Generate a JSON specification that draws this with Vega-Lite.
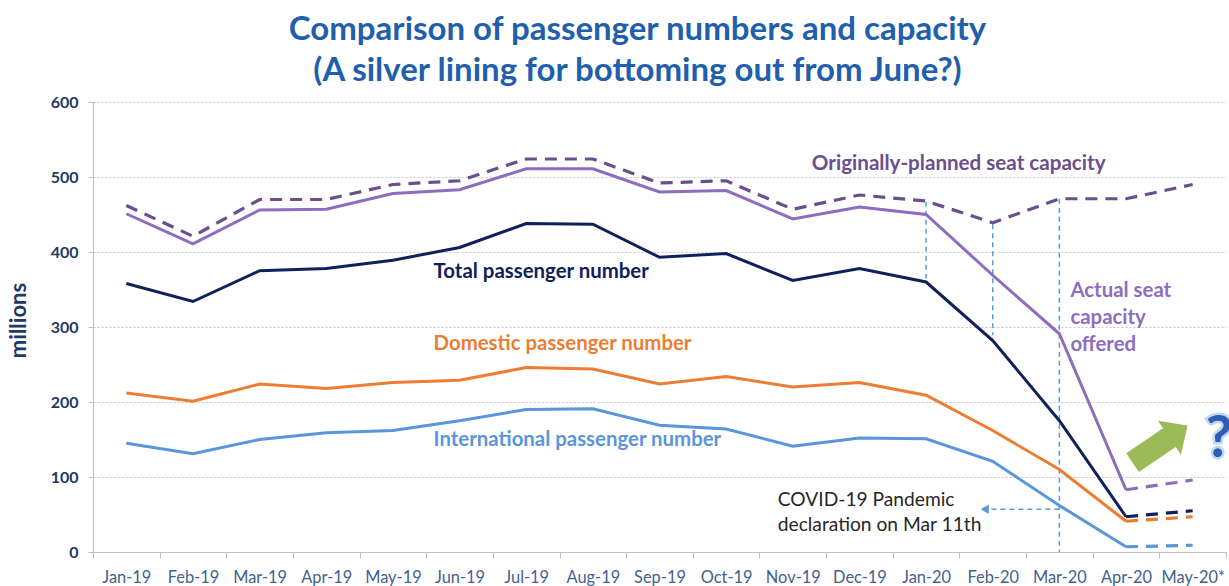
{
  "$schema": "https://vega.github.io/schema/vega-lite/v6.json",
  "width": 1133,
  "height": 450,
  "autosize": {"type": "none"},
  "padding": {"left": 93, "top": 102, "right": 3, "bottom": 34},
  "background": "white",
  "config": {"font": "Lato", "view": {"stroke": null}},
  "title": {
    "text": ["Comparison of passenger numbers and capacity", "(A silver lining for bottoming out from June?)"],
    "font": "Lato",
    "fontSize": 33,
    "fontWeight": "bold",
    "color": "#1F5FAD",
    "anchor": "middle",
    "frame": "group",
    "dx": -22,
    "lineHeight": 41,
    "offset": 6
  },
  "datasets": {
    "lines": [
      {"month": "Jan-19", "series": "Total", "value": 358, "status": "reported"},
      {"month": "Feb-19", "series": "Total", "value": 334, "status": "reported"},
      {"month": "Mar-19", "series": "Total", "value": 375, "status": "reported"},
      {"month": "Apr-19", "series": "Total", "value": 378, "status": "reported"},
      {"month": "May-19", "series": "Total", "value": 389, "status": "reported"},
      {"month": "Jun-19", "series": "Total", "value": 406, "status": "reported"},
      {"month": "Jul-19", "series": "Total", "value": 438, "status": "reported"},
      {"month": "Aug-19", "series": "Total", "value": 437, "status": "reported"},
      {"month": "Sep-19", "series": "Total", "value": 393, "status": "reported"},
      {"month": "Oct-19", "series": "Total", "value": 398, "status": "reported"},
      {"month": "Nov-19", "series": "Total", "value": 362, "status": "reported"},
      {"month": "Dec-19", "series": "Total", "value": 378, "status": "reported"},
      {"month": "Jan-20", "series": "Total", "value": 360, "status": "reported"},
      {"month": "Feb-20", "series": "Total", "value": 282, "status": "reported"},
      {"month": "Mar-20", "series": "Total", "value": 175, "status": "reported"},
      {"month": "Apr-20", "series": "Total", "value": 47, "status": "reported"},
      {"month": "Apr-20", "series": "Total", "value": 47, "status": "estimated"},
      {"month": "May-20*", "series": "Total", "value": 55, "status": "estimated"},

      {"month": "Jan-19", "series": "Actual", "value": 451, "status": "reported"},
      {"month": "Feb-19", "series": "Actual", "value": 411, "status": "reported"},
      {"month": "Mar-19", "series": "Actual", "value": 456, "status": "reported"},
      {"month": "Apr-19", "series": "Actual", "value": 457, "status": "reported"},
      {"month": "May-19", "series": "Actual", "value": 478, "status": "reported"},
      {"month": "Jun-19", "series": "Actual", "value": 483, "status": "reported"},
      {"month": "Jul-19", "series": "Actual", "value": 511, "status": "reported"},
      {"month": "Aug-19", "series": "Actual", "value": 511, "status": "reported"},
      {"month": "Sep-19", "series": "Actual", "value": 480, "status": "reported"},
      {"month": "Oct-19", "series": "Actual", "value": 482, "status": "reported"},
      {"month": "Nov-19", "series": "Actual", "value": 444, "status": "reported"},
      {"month": "Dec-19", "series": "Actual", "value": 460, "status": "reported"},
      {"month": "Jan-20", "series": "Actual", "value": 450, "status": "reported"},
      {"month": "Feb-20", "series": "Actual", "value": 369, "status": "reported"},
      {"month": "Mar-20", "series": "Actual", "value": 291, "status": "reported"},
      {"month": "Apr-20", "series": "Actual", "value": 83, "status": "reported"},
      {"month": "Apr-20", "series": "Actual", "value": 83, "status": "estimated"},
      {"month": "May-20*", "series": "Actual", "value": 96, "status": "estimated"},

      {"month": "Jan-19", "series": "Planned", "value": 462, "status": "planned"},
      {"month": "Feb-19", "series": "Planned", "value": 421, "status": "planned"},
      {"month": "Mar-19", "series": "Planned", "value": 470, "status": "planned"},
      {"month": "Apr-19", "series": "Planned", "value": 470, "status": "planned"},
      {"month": "May-19", "series": "Planned", "value": 490, "status": "planned"},
      {"month": "Jun-19", "series": "Planned", "value": 495, "status": "planned"},
      {"month": "Jul-19", "series": "Planned", "value": 524, "status": "planned"},
      {"month": "Aug-19", "series": "Planned", "value": 524, "status": "planned"},
      {"month": "Sep-19", "series": "Planned", "value": 492, "status": "planned"},
      {"month": "Oct-19", "series": "Planned", "value": 495, "status": "planned"},
      {"month": "Nov-19", "series": "Planned", "value": 457, "status": "planned"},
      {"month": "Dec-19", "series": "Planned", "value": 476, "status": "planned"},
      {"month": "Jan-20", "series": "Planned", "value": 468, "status": "planned"},
      {"month": "Feb-20", "series": "Planned", "value": 439, "status": "planned"},
      {"month": "Mar-20", "series": "Planned", "value": 471, "status": "planned"},
      {"month": "Apr-20", "series": "Planned", "value": 471, "status": "planned"},
      {"month": "May-20*", "series": "Planned", "value": 490, "status": "planned"},

      {"month": "Jan-19", "series": "Domestic", "value": 212, "status": "reported"},
      {"month": "Feb-19", "series": "Domestic", "value": 201, "status": "reported"},
      {"month": "Mar-19", "series": "Domestic", "value": 224, "status": "reported"},
      {"month": "Apr-19", "series": "Domestic", "value": 218, "status": "reported"},
      {"month": "May-19", "series": "Domestic", "value": 226, "status": "reported"},
      {"month": "Jun-19", "series": "Domestic", "value": 229, "status": "reported"},
      {"month": "Jul-19", "series": "Domestic", "value": 246, "status": "reported"},
      {"month": "Aug-19", "series": "Domestic", "value": 244, "status": "reported"},
      {"month": "Sep-19", "series": "Domestic", "value": 224, "status": "reported"},
      {"month": "Oct-19", "series": "Domestic", "value": 234, "status": "reported"},
      {"month": "Nov-19", "series": "Domestic", "value": 220, "status": "reported"},
      {"month": "Dec-19", "series": "Domestic", "value": 226, "status": "reported"},
      {"month": "Jan-20", "series": "Domestic", "value": 209, "status": "reported"},
      {"month": "Feb-20", "series": "Domestic", "value": 162, "status": "reported"},
      {"month": "Mar-20", "series": "Domestic", "value": 110, "status": "reported"},
      {"month": "Apr-20", "series": "Domestic", "value": 41, "status": "reported"},
      {"month": "Apr-20", "series": "Domestic", "value": 41, "status": "estimated"},
      {"month": "May-20*", "series": "Domestic", "value": 47, "status": "estimated"},

      {"month": "Jan-19", "series": "International", "value": 145, "status": "reported"},
      {"month": "Feb-19", "series": "International", "value": 131, "status": "reported"},
      {"month": "Mar-19", "series": "International", "value": 150, "status": "reported"},
      {"month": "Apr-19", "series": "International", "value": 159, "status": "reported"},
      {"month": "May-19", "series": "International", "value": 162, "status": "reported"},
      {"month": "Jun-19", "series": "International", "value": 175, "status": "reported"},
      {"month": "Jul-19", "series": "International", "value": 190, "status": "reported"},
      {"month": "Aug-19", "series": "International", "value": 191, "status": "reported"},
      {"month": "Sep-19", "series": "International", "value": 169, "status": "reported"},
      {"month": "Oct-19", "series": "International", "value": 164, "status": "reported"},
      {"month": "Nov-19", "series": "International", "value": 141, "status": "reported"},
      {"month": "Dec-19", "series": "International", "value": 152, "status": "reported"},
      {"month": "Jan-20", "series": "International", "value": 151, "status": "reported"},
      {"month": "Feb-20", "series": "International", "value": 121, "status": "reported"},
      {"month": "Mar-20", "series": "International", "value": 62, "status": "reported"},
      {"month": "Apr-20", "series": "International", "value": 7, "status": "reported"},
      {"month": "Apr-20", "series": "International", "value": 7, "status": "estimated"},
      {"month": "May-20*", "series": "International", "value": 9, "status": "estimated"}
    ]
  },
  "encoding": {
    "x": {
      "field": "month",
      "type": "ordinal",
      "sort": ["Jan-19", "Feb-19", "Mar-19", "Apr-19", "May-19", "Jun-19", "Jul-19", "Aug-19", "Sep-19", "Oct-19", "Nov-19", "Dec-19", "Jan-20", "Feb-20", "Mar-20", "Apr-20", "May-20*"],
      "scale": {"paddingInner": 0, "paddingOuter": 0},
      "axis": {
        "title": null,
        "tickBand": "extent",
        "labelAngle": 0,
        "labelColor": "#44618C",
        "labelFont": "Lato",
        "labelFontSize": 16.4,
        "labelPadding": 11,
        "domainColor": "#BFBFBF",
        "tickColor": "#BFBFBF",
        "tickSize": 6,
        "grid": false
      }
    },
    "y": {
      "field": "value",
      "type": "quantitative",
      "scale": {"domain": [0, 600], "nice": false},
      "axis": {
        "values": [0, 100, 200, 300, 400, 500, 600],
        "title": "millions",
        "titleX": -75,
        "titleY": 218,
        "titleAngle": -90,
        "titleAlign": "center",
        "titleBaseline": "middle",
        "titleFont": "Lato",
        "titleFontSize": 22,
        "titleFontWeight": "bold",
        "titleColor": "#1F3864",
        "labelFont": "Lato",
        "labelFontSize": 16,
        "labelFontWeight": "bold",
        "labelColor": "#1F3864",
        "labelPadding": 10,
        "tickSize": 5,
        "tickColor": "#BFBFBF",
        "domainColor": "#BFBFBF",
        "grid": true,
        "gridColor": "#C8C8C8",
        "gridDash": [2, 2]
      }
    }
  },
  "layer": [
    {
      "data": {"values": [
        {"month": "Jan-20", "value": 467, "value2": 360},
        {"month": "Feb-20", "value": 437, "value2": 289},
        {"month": "Mar-20", "value": 471, "value2": 0}
      ]},
      "mark": {"type": "rule", "color": "#5B9BD5", "strokeDash": [5, 4], "strokeWidth": 1.5},
      "encoding": {"y2": {"field": "value2"}}
    },
    {
      "data": {"values": [{"month": "Mar-20", "month2": "Feb-20", "value": 57}]},
      "mark": {"type": "rule", "color": "#5B9BD5", "strokeDash": [5, 4], "strokeWidth": 1.5, "x2Offset": -5},
      "encoding": {"x2": {"field": "month2"}}
    },
    {
      "data": {"values": [{"month": "Feb-20", "value": 57}]},
      "mark": {"type": "point", "shape": "triangle-left", "filled": true, "size": 90, "opacity": 1, "color": "#5B9BD5", "xOffset": -8}
    },
    {
      "data": {"name": "lines"},
      "transform": [{"filter": "datum.status === 'reported'"}],
      "mark": {"type": "line", "strokeWidth": 3},
      "encoding": {
        "color": {"field": "series", "type": "nominal", "legend": null,
          "scale": {"domain": ["Total", "Actual", "Planned", "Domestic", "International", "Note"],
                    "range": ["#10215A", "#8E6CBF", "#6B4E8E", "#ED7D31", "#5B95DA", "#262626"]}},
        "detail": {"field": "series"}
      }
    },
    {
      "data": {"name": "lines"},
      "transform": [{"filter": "datum.status !== 'reported'"}],
      "mark": {"type": "line", "strokeWidth": 3.2, "strokeDash": [12, 8]},
      "encoding": {
        "color": {"field": "series", "type": "nominal", "legend": null},
        "detail": {"field": "series"}
      }
    },
    {
      "data": {"values": [{"month": "Nov-19", "value": 518, "series": "Planned", "label": "Originally-planned seat capacity"}]},
      "mark": {"type": "text", "align": "left", "baseline": "middle", "fontSize": 20.6, "fontWeight": "bold", "dx": 19},
      "encoding": {"text": {"field": "label"}, "color": {"field": "series", "type": "nominal", "legend": null}}
    },
    {
      "data": {"values": [
        {"month": "Jun-19", "value": 374, "series": "Total", "label": "Total passenger number"},
        {"month": "Jun-19", "value": 277, "series": "Domestic", "label": "Domestic passenger number"},
        {"month": "Jun-19", "value": 149, "series": "International", "label": "International passenger number"}
      ]},
      "mark": {"type": "text", "align": "left", "baseline": "middle", "fontSize": 20.4, "fontWeight": "bold", "dx": -26},
      "encoding": {"text": {"field": "label"}, "color": {"field": "series", "type": "nominal", "legend": null}}
    },
    {
      "data": {"values": [{"month": "Mar-20", "value": 362, "series": "Actual", "label": ["Actual seat", "capacity", "offered"]}]},
      "mark": {"type": "text", "align": "left", "baseline": "top", "fontSize": 20.4, "fontWeight": "bold", "lineHeight": 27, "dx": 11},
      "encoding": {"text": {"field": "label"}, "color": {"field": "series", "type": "nominal", "legend": null}}
    },
    {
      "data": {"values": [{"month": "Nov-19", "value": 82, "series": "Note", "label": ["COVID-19 Pandemic", "declaration on Mar 11th"]}]},
      "mark": {"type": "text", "align": "left", "baseline": "top", "fontSize": 19.2, "lineHeight": 25, "dx": -15},
      "encoding": {"text": {"field": "label"}, "color": {"field": "series", "type": "nominal", "legend": null}}
    },
    {
      "data": {"values": [{"month": "Apr-20", "value": 144}]},
      "mark": {"type": "point", "filled": true, "opacity": 1, "color": "#9BBB59", "size": 4400, "angle": 56, "xOffset": 34,
        "shape": "M -0.34 1 L 0.34 1 L 0.34 -0.34 L 0.62 -0.34 L 0 -1 L -0.62 -0.34 L -0.34 -0.34 Z"}
    },
    {
      "data": {"values": [{"month": "May-20*", "value": 150, "label": "?"}]},
      "mark": {"type": "text", "align": "left", "baseline": "middle", "fontSize": 58, "fontWeight": "bold", "dx": 13, "color": "#2F5DB5", "stroke": "#BDD7EE", "strokeWidth": 5},
      "encoding": {"text": {"field": "label"}}
    },
    {
      "data": {"values": [{"month": "May-20*", "value": 150, "label": "?"}]},
      "mark": {"type": "text", "align": "left", "baseline": "middle", "fontSize": 58, "fontWeight": "bold", "dx": 13, "color": "#2F5DB5"},
      "encoding": {"text": {"field": "label"}}
    }
  ]
}
